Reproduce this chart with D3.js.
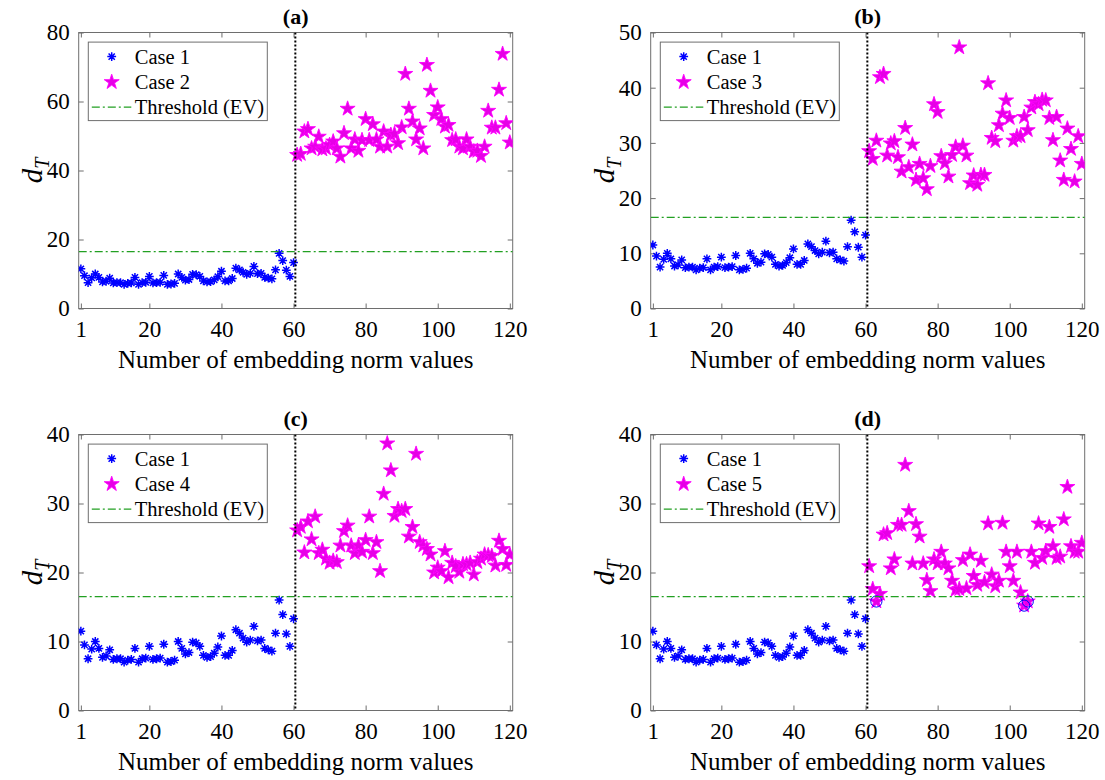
<!DOCTYPE html>
<html>
<head>
<meta charset="utf-8">
<script src="https://cdn.jsdelivr.net/npm/d3@7"></script>
<style>
  body { margin: 0; background: #fff; }
  svg { display: block; }
  text { font-family: "Liberation Serif", "Times New Roman", serif; fill: #000; }
</style>
</head>
<body>
<svg id="fig" width="1105" height="780"></svg>
<script>
// Sample indices: reference set (Case 1) and the test sets (Cases 2-5)
const indexCase1 = d3.range(1, 61);
const indexTest = d3.range(61, 121);

// Embedding-norm distance d_T for each sample
const case1 = [11.5, 9.5, 7.5, 8.9, 10.0, 9.0, 7.7, 7.9, 8.8, 7.4,
               7.5, 7.5, 7.0, 7.3, 7.4, 9.0, 7.0, 7.5, 7.6, 9.3,
               7.4, 7.5, 7.6, 9.6, 7.0, 7.1, 7.3, 10.0, 9.0, 8.2,
               8.4, 9.9, 9.8, 9.3, 8.0, 7.7, 7.8, 8.3, 9.2, 10.8,
               8.0, 8.0, 8.7, 11.7, 11.2, 10.5, 9.9, 10.2, 12.2, 10.1,
               10.2, 9.0, 8.8, 8.6, 11.2, 16.0, 13.9, 11.1, 9.3, 13.3];

const case2 = [44.5, 44.8, 51.3, 52.0, 46.4, 46.9, 49.8, 46.1, 46.4, 47.4,
               48.4, 46.4, 44.0, 50.8, 57.9, 46.4, 49.0, 45.7, 48.8, 54.9,
               48.8, 53.4, 49.0, 46.9, 51.3, 46.9, 50.3, 50.6, 47.9, 52.5,
               68.0, 57.9, 54.2, 49.0, 52.2, 46.4, 70.6, 63.1, 56.1, 58.3,
               54.9, 52.7, 53.2, 48.8, 49.0, 46.9, 46.4, 49.0, 46.9, 45.5,
               45.7, 44.2, 46.9, 57.3, 52.4, 52.4, 63.4, 73.8, 53.7, 48.1];

const case3 = [28.5, 27.1, 30.4, 41.9, 42.5, 27.7, 29.9, 30.3, 27.4, 24.8,
               32.7, 25.6, 29.7, 23.3, 26.2, 23.6, 21.6, 25.8, 37.0, 35.6,
               27.6, 26.3, 23.9, 27.8, 29.3, 47.3, 29.5, 27.7, 22.7, 24.1,
               22.4, 24.2, 24.2, 40.8, 30.9, 30.3, 33.2, 35.3, 37.7, 34.5,
               30.4, 31.2, 31.2, 34.7, 32.3, 36.4, 37.4, 37.0, 37.8, 37.7,
               34.5, 30.5, 34.7, 26.8, 23.3, 32.6, 28.9, 23.0, 31.2, 26.2];

const case4 = [26.1, 26.6, 22.9, 27.4, 24.8, 28.1, 22.8, 23.3, 22.0, 21.4,
               21.7, 21.5, 23.9, 26.0, 26.8, 23.9, 22.8, 23.9, 23.0, 24.7,
               28.1, 22.8, 24.4, 20.2, 31.4, 38.7, 34.8, 28.2, 29.2, 28.9,
               29.2, 25.2, 26.6, 37.2, 24.4, 23.9, 23.4, 22.6, 20.0, 20.7,
               20.2, 23.1, 19.3, 21.4, 20.9, 20.1, 21.2, 21.2, 21.4, 19.7,
               21.5, 22.0, 22.6, 22.5, 22.4, 21.0, 24.6, 23.4, 21.1, 22.6];

const case5 = [20.9, 17.6, 15.8, 16.9, 25.5, 25.7, 20.6, 21.9, 26.9, 26.9,
               35.6, 28.9, 21.3, 27.0, 25.2, 21.3, 18.9, 17.3, 21.9, 21.3,
               23.0, 21.3, 20.6, 18.8, 17.5, 17.6, 21.8, 17.7, 22.6, 19.5,
               18.2, 21.7, 18.6, 27.1, 19.7, 18.0, 18.8, 27.2, 23.0, 20.9,
               18.8, 23.0, 17.1, 15.2, 15.8, 23.0, 21.4, 27.1, 22.1, 23.1,
               26.6, 23.8, 22.1, 22.3, 27.7, 32.4, 23.8, 23.0, 23.0, 24.3];

const threshold = 16.5;     // extreme-value threshold
const splitIndex = 60.5;    // boundary between reference and test samples

const xTickValues = [1, 20, 40, 60, 80, 100, 120];
const yTicksA = [0, 20, 40, 60, 80];
const yTicksB = [0, 10, 20, 30, 40, 50];
const yTicksC = [0, 10, 20, 30, 40];
const yTicksD = [0, 10, 20, 30, 40];

const titles = ["(a)", "(b)", "(c)", "(d)"];
const testNames = ["Case 2", "Case 3", "Case 4", "Case 5"];
const testSets = [case2, case3, case4, case5];
const yTickSets = [yTicksA, yTicksB, yTicksC, yTicksD];
const markFlagged = [false, false, false, true];

const xLabel = "Number of embedding norm values";

// ---- layout ----
const svg = d3.select("#fig");
const panelW = 434, panelH = 276;
const lefts = [78.7, 650.7], tops = [32.5, 434.5];
const blue = "#0000ff", magenta = "#ff00ff", green = "#22a022", axisGray = "#6e6e6e";

function asteriskPath(r) {
  let p = "";
  for (let k = 0; k < 4; k++) {
    const a = k * Math.PI / 4;
    const dx = r * Math.cos(a), dy = r * Math.sin(a);
    p += `M${-dx},${-dy}L${dx},${dy}`;
  }
  return p;
}
const starPath = d3.symbol().type(d3.symbolStar).size(70)();
const astPath = asteriskPath(4.4);

testSets.forEach((testVals, pi) => {
  const col = pi % 2, row = Math.floor(pi / 2);
  const left = lefts[col], top = tops[row];
  const yTicks = yTickSets[pi];
  const yMax = yTicks[yTicks.length - 1];

  const x = d3.scaleLinear().domain([0.4, 120.8]).range([0, panelW]);
  const y = d3.scaleLinear().domain([0, yMax]).range([panelH, 0]);

  const g = svg.append("g").attr("transform", `translate(${left},${top})`);

  // clip so markers stay inside the axes box
  const clipId = "clip" + pi;
  g.append("clipPath").attr("id", clipId)
    .append("rect").attr("width", panelW).attr("height", panelH);

  // axes: ticks point inward on all four sides
  const styleAxis = sel => {
    sel.attr("font-family", null).attr("font-size", null);
    sel.select(".domain").remove();
    sel.selectAll(".tick line").attr("stroke", axisGray).attr("stroke-width", 1);
    sel.selectAll(".tick text").attr("font-size", 23).attr("fill", "#000");
  };
  g.append("g").attr("transform", `translate(0,${panelH})`)
    .call(d3.axisBottom(x).tickValues(xTickValues).tickSize(-5).tickPadding(12).tickFormat(d3.format("d")))
    .call(styleAxis);
  g.append("g")
    .call(d3.axisTop(x).tickValues(xTickValues).tickSize(-5).tickFormat(""))
    .call(styleAxis);
  g.append("g")
    .call(d3.axisLeft(y).tickValues(yTicks).tickSize(-5).tickPadding(9).tickFormat(d3.format("d")))
    .call(styleAxis);
  g.append("g").attr("transform", `translate(${panelW},0)`)
    .call(d3.axisRight(y).tickValues(yTicks).tickSize(-5).tickFormat(""))
    .call(styleAxis);

  g.append("rect").attr("width", panelW).attr("height", panelH)
    .attr("fill", "none").attr("stroke", axisGray).attr("stroke-width", 1);

  const plot = g.append("g").attr("clip-path", `url(#${clipId})`);

  // reference samples
  plot.append("g").selectAll("path").data(case1).join("path")
    .attr("d", astPath)
    .attr("transform", (d, i) => `translate(${x(indexCase1[i])},${y(d)})`)
    .attr("stroke", blue).attr("stroke-width", 1.5).attr("fill", "none");

  // test samples
  plot.append("g").selectAll("path").data(testVals).join("path")
    .attr("d", starPath)
    .attr("transform", (d, i) => `translate(${x(indexTest[i])},${y(d)})`)
    .attr("fill", "#e600e6").attr("stroke", magenta).attr("stroke-width", 0.9);

  // test samples that fall below the threshold
  if (markFlagged[pi]) {
    plot.append("g").selectAll("circle")
      .data(testVals.map((v, i) => ({v, i})).filter(d => d.v < threshold))
      .join("circle")
      .attr("cx", d => x(indexTest[d.i])).attr("cy", d => y(d.v)).attr("r", 5.6)
      .attr("fill", "none").attr("stroke", blue).attr("stroke-width", 1);
  }

  // threshold line
  plot.append("line")
    .attr("x1", 0).attr("x2", panelW).attr("y1", y(threshold)).attr("y2", y(threshold))
    .attr("stroke", green).attr("stroke-width", 1.4).attr("stroke-dasharray", "8,3,2,3");

  // split between reference and test samples
  plot.append("line")
    .attr("x1", x(splitIndex)).attr("x2", x(splitIndex)).attr("y1", 0).attr("y2", panelH)
    .attr("stroke", "#000").attr("stroke-width", 2).attr("stroke-dasharray", "2,2");

  // legend
  const lg = g.append("g").attr("transform", "translate(9.6,9.6)");
  lg.append("rect").attr("width", 179).attr("height", 78.5)
    .attr("fill", "#fff").attr("stroke", axisGray).attr("stroke-width", 1);
  const rowsY = [14.5, 40, 65];
  lg.append("path").attr("d", astPath).attr("transform", `translate(23.4,${rowsY[0]})`)
    .attr("stroke", blue).attr("stroke-width", 1.5).attr("fill", "none");
  lg.append("path").attr("d", starPath).attr("transform", `translate(23.4,${rowsY[1]})`)
    .attr("fill", "#e600e6").attr("stroke", magenta).attr("stroke-width", 0.9);
  lg.append("line").attr("x1", 3.5).attr("x2", 43).attr("y1", rowsY[2]).attr("y2", rowsY[2])
    .attr("stroke", green).attr("stroke-width", 1.4).attr("stroke-dasharray", "8,3,2,3");
  const legendText = ["Case 1", testNames[pi], "Threshold (EV)"];
  lg.selectAll("text.lt").data(legendText).join("text").attr("class", "lt")
    .attr("x", 46.5).attr("y", (d, i) => rowsY[i] + 7)
    .attr("font-size", 20.5).text(d => d);

  // title
  g.append("text").attr("x", panelW / 2).attr("y", -9)
    .attr("text-anchor", "middle").attr("font-size", 22).attr("font-weight", "bold")
    .text(titles[pi]);

  // x label
  g.append("text").attr("x", panelW / 2).attr("y", panelH + 59)
    .attr("text-anchor", "middle").attr("font-size", 25).text(xLabel);

  // y label: d_T
  const yl = g.append("text")
    .attr("transform", `translate(-37,${panelH / 2}) rotate(-90)`)
    .attr("text-anchor", "middle");
  yl.append("tspan").attr("font-style", "italic").attr("font-size", 29).text("d");
  yl.append("tspan").attr("font-style", "italic").attr("font-size", 20).attr("dy", 7).text("T");
});
</script>
</body>
</html>
